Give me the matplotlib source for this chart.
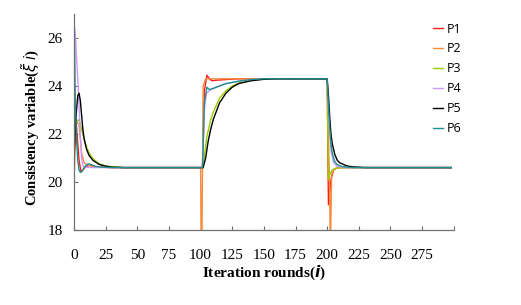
import matplotlib
matplotlib.use("Agg")
import matplotlib.pyplot as plt

# iteration rounds and consistency variable values
p1_x = [0, 1, 2, 3, 4, 5.5, 7, 9, 12, 15, 20, 30, 100, 101.5, 103, 105, 107, 109, 112, 120, 130,
        200, 200.5, 201, 202, 203, 205, 208, 298]
p1_y = [23.1, 22.8, 22.3, 21.6, 20.9, 20.43, 20.5, 20.62, 20.7, 20.66, 20.62, 20.6, 20.6, 20.6, 23.8,
        24.45, 24.3, 24.22, 24.24, 24.27, 24.3, 24.3, 21.5, 19.05, 19.6, 20.1, 20.5, 20.6, 20.6]

p2_x = [0, 1, 2, 4, 5, 6, 8, 12, 20, 30, 100, 100.5, 101, 102, 104, 200, 201, 202, 202.5, 203.5,
        205, 208, 298]
p2_y = [20.0, 21.5, 22.5, 22.4, 21.8, 21.2, 20.8, 20.68, 20.62, 20.6, 20.6, 17.0, 17.0, 24.0, 24.3,
        24.3, 22.0, 19.5, 17.0, 20.3, 20.5, 20.6, 20.6]

p3_x = [0, 2, 4, 6, 8, 10, 12, 15, 20, 25, 30, 40, 100, 102, 103, 105, 108, 110, 115, 120, 125,
        130, 140, 150, 200, 200.5, 201, 202, 204, 207, 212, 298]
p3_y = [22.3, 22.5, 22.6, 22.2, 21.8, 21.45, 21.2, 20.97, 20.75, 20.67, 20.63, 20.6, 20.6, 20.6,
        21.1, 21.9, 22.6, 22.9, 23.5, 23.8, 24.0, 24.12, 24.24, 24.29, 24.3, 22.0, 20.1, 20.3, 20.5,
        20.58, 20.6, 20.6]

p4_x = [0, 1, 2, 3, 4, 5, 6, 7, 8, 15, 100, 101.5, 103, 104.5, 108, 112, 120, 130, 140, 150,
        200, 201, 202, 203, 205, 208, 215, 298]
p4_y = [26.6, 26.2, 25.2, 24.3, 23.2, 22.0, 21.0, 20.7, 20.62, 20.6, 20.6, 20.6, 23.0, 23.7, 23.85,
        23.95, 24.1, 24.2, 24.26, 24.3, 24.3, 23.0, 22.0, 21.3, 20.8, 20.65, 20.6, 20.6]

p5_x = [0, 1, 2, 3, 4, 5, 6, 7, 8, 10, 12, 15, 20, 25, 30, 40, 100, 102, 104, 106, 108, 110, 115,
        120, 125, 130, 140, 150, 160, 200, 201, 202, 203, 204, 206, 208, 210, 215, 220, 230, 298]
p5_y = [21.0, 22.0, 23.0, 23.6, 23.7, 23.4, 22.8, 22.2, 21.8, 21.35, 21.1, 20.9, 20.73, 20.66,
        20.62, 20.6, 20.6, 20.6, 21.0, 21.7, 22.2, 22.6, 23.3, 23.7, 23.95, 24.1, 24.22, 24.28, 24.3,
        24.3, 23.6, 22.7, 22.0, 21.6, 21.15, 20.9, 20.8, 20.68, 20.63, 20.6, 20.6]

p6_x = [0, 0.5, 1, 2, 3, 4, 5, 6, 8, 10, 12, 14, 17, 22, 30, 100, 101.5, 103, 105, 107, 110, 115,
        120, 130, 140, 150, 200, 201, 202, 203, 204, 206, 208, 212, 220, 298]
p6_y = [27.0, 25.5, 23.5, 21.8, 20.9, 20.5, 20.4, 20.42, 20.6, 20.72, 20.75, 20.72, 20.65, 20.62,
        20.6, 20.6, 20.6, 23.3, 23.95, 23.85, 23.9, 24.0, 24.1, 24.2, 24.27, 24.3, 24.3, 23.2, 22.3,
        21.6, 21.2, 20.85, 20.72, 20.64, 20.6, 20.6]

series = [
    ("P1", p1_x, p1_y, "#ff1a1a"),
    ("P2", p2_x, p2_y, "#f7893b"),
    ("P3", p3_x, p3_y, "#9acd00"),
    ("P4", p4_x, p4_y, "#cc99ff"),
    ("P5", p5_x, p5_y, "#000000"),
    ("P6", p6_x, p6_y, "#1f8f8f"),
]

x_ticks = [0, 25, 50, 75, 100, 125, 150, 175, 200, 225, 250, 275, 300]
x_tick_labels = ["0", "25", "50", "75", "100", "125", "150", "175", "200", "225", "250", "275", ""]
y_ticks = [18, 20, 22, 24, 26]

fig = plt.figure(figsize=(5.21, 3.05), dpi=100)
ax = fig.add_axes([0.142, 0.246, 0.729, 0.708])

for name, xs, ys, color in series:
    ax.plot(xs, ys, color=color, linewidth=1.0, label=name)

ax.set_xlim(0, 300)
ax.set_ylim(18, 27)
ax.set_xticks(x_ticks)
ax.set_xticklabels(x_tick_labels, family="Liberation Serif", fontsize=11)
ax.set_yticks(y_ticks)
ax.set_yticklabels([str(v) for v in y_ticks], family="Liberation Serif", fontsize=11)
ax.tick_params(direction="in", length=3, width=0.8, color="#707070")
ax.tick_params(axis="x", pad=14)
ax.tick_params(axis="y", pad=8)

for side in ("top", "right"):
    ax.spines[side].set_visible(False)
for side in ("left", "bottom"):
    ax.spines[side].set_color("#707070")
    ax.spines[side].set_linewidth(0.9)

ax.set_xlabel(r"Iteration rounds($\boldsymbol{i}$)", family="Liberation Serif",
              fontweight="bold", fontsize=11, labelpad=1)
ax.set_ylabel(r"Consistency variable($\tilde{\xi}$ $i$)", family="Liberation Serif",
              fontweight="bold", fontsize=10.5)
ax.yaxis.set_label_coords(-0.085, 0.475)

leg = ax.legend(loc="upper left", bbox_to_anchor=(0.81, 0.963), bbox_transform=fig.transFigure,
                frameon=False, handlelength=0.8, handletextpad=0.3, labelspacing=0.55,
                prop={"family": "Open Sans", "size": 9})

fig.savefig("out.png", dpi=100)
